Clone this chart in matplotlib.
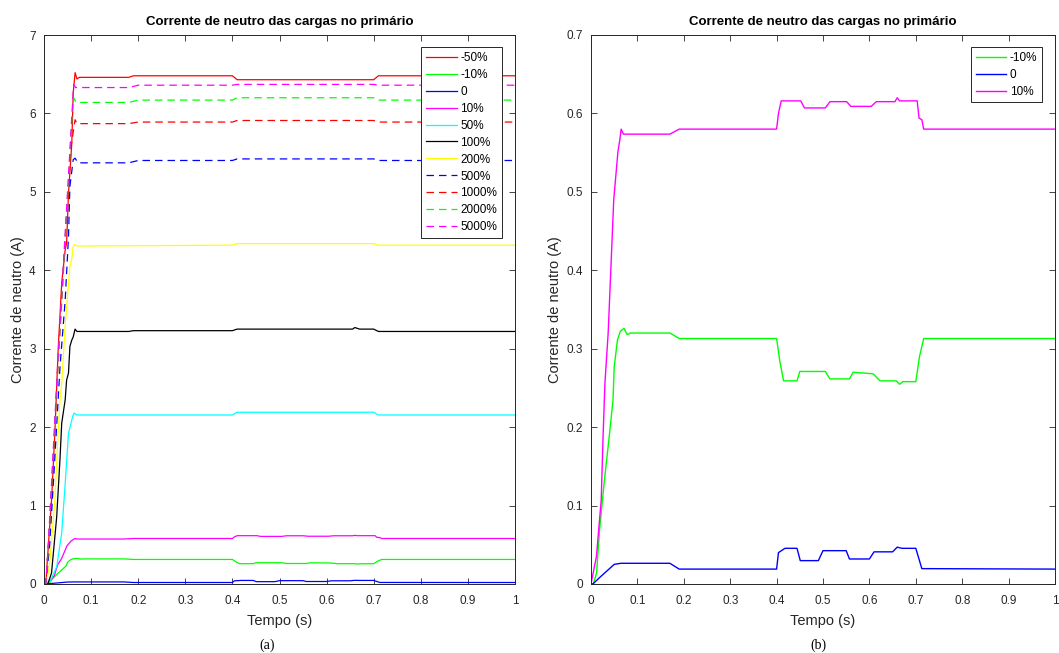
import matplotlib
matplotlib.use("Agg")
import matplotlib.pyplot as plt
from matplotlib.ticker import MultipleLocator, FuncFormatter

plt.rcParams['font.family'] = ['Liberation Sans', 'DejaVu Sans']

# ---- data (time in s, current in A) ----
# small loads (same curves on both panels)
neg10_t = [0, 0.005, 0.012, 0.0185, 0.029, 0.04, 0.0475, 0.05, 0.057, 0.063, 0.071, 0.078, 0.085,
           0.17, 0.19, 0.40, 0.407, 0.415, 0.444, 0.45, 0.505, 0.515, 0.557, 0.565, 0.608, 0.623,
           0.658, 0.665, 0.672, 0.70, 0.708, 0.717, 1.0]
neg10_v = [0, 0, 0.014, 0.069, 0.133, 0.192, 0.235, 0.277, 0.311, 0.322, 0.326, 0.318, 0.320,
           0.320, 0.313, 0.313, 0.284, 0.259, 0.259, 0.271, 0.271, 0.2615, 0.2615, 0.270, 0.268, 0.259,
           0.259, 0.2547, 0.258, 0.258, 0.290, 0.313, 0.313]

zero_t = [0, 0.004, 0.02, 0.035, 0.050, 0.064, 0.17, 0.19, 0.40, 0.404, 0.418, 0.444, 0.451, 0.49,
          0.50, 0.55, 0.557, 0.60, 0.61, 0.65, 0.66, 0.67, 0.70, 0.713, 1.0]
zero_v = [0, 0, 0.009, 0.017, 0.025, 0.0264, 0.0264, 0.019, 0.019, 0.040, 0.0455, 0.0455, 0.0298, 0.0298,
          0.0425, 0.0425, 0.0319, 0.0319, 0.041, 0.041, 0.047, 0.0455, 0.0455, 0.0196, 0.019]

pos10_t = [0, 0.0117, 0.022, 0.026, 0.03, 0.037, 0.04, 0.049, 0.0546, 0.058, 0.062, 0.065, 0.07,
           0.17, 0.19, 0.40, 0.404, 0.41, 0.452, 0.46, 0.505, 0.515, 0.551, 0.56, 0.604, 0.615,
           0.655, 0.66, 0.665, 0.703, 0.707, 0.713, 0.717, 1.0]
pos10_v = [0, 0.035, 0.107, 0.188, 0.256, 0.32, 0.362, 0.49, 0.528, 0.551, 0.566, 0.580, 0.5736,
           0.5736, 0.58, 0.58, 0.600, 0.616, 0.616, 0.607, 0.607, 0.615, 0.615, 0.609, 0.609, 0.615,
           0.615, 0.620, 0.616, 0.616, 0.594, 0.592, 0.58, 0.58]

# larger loads (left panel only)
neg50_t = [0, 0.004, 0.0057, 0.016, 0.023, 0.030, 0.0376, 0.045, 0.048, 0.052, 0.059, 0.062, 0.066,
           0.07, 0.075, 0.18, 0.19, 0.40, 0.41, 0.70, 0.71, 1.0]
neg50_v = [0, 0, 0.18, 1.07, 1.92, 2.98, 3.84, 4.26, 4.35, 4.98, 5.62, 6.26, 6.52,
           6.44, 6.46, 6.46, 6.48, 6.48, 6.43, 6.43, 6.48, 6.48]

p50_t = [0, 0.0127, 0.027, 0.0376, 0.045, 0.052, 0.059, 0.062, 0.064, 0.07, 0.40, 0.41, 0.70, 0.71, 1.0]
p50_v = [0, 0.03, 0.22, 0.65, 1.28, 1.92, 2.09, 2.155, 2.18, 2.155, 2.155, 2.19, 2.19, 2.155, 2.155]

p100_t = [0, 0.008, 0.016, 0.027, 0.034, 0.0376, 0.045, 0.048, 0.052, 0.055, 0.059, 0.062, 0.066,
          0.07, 0.18, 0.19, 0.40, 0.41, 0.655, 0.66, 0.67, 0.70, 0.71, 1.0]
p100_v = [0, 0, 0.14, 0.86, 1.6, 2.05, 2.35, 2.60, 2.69, 3.03, 3.11, 3.15, 3.25,
          3.22, 3.22, 3.23, 3.23, 3.25, 3.25, 3.27, 3.25, 3.25, 3.22, 3.22]

p200_t = [0, 0.005, 0.0127, 0.023, 0.030, 0.034, 0.0376, 0.045, 0.055, 0.059, 0.062, 0.065, 0.07,
          0.40, 0.41, 0.70, 0.71, 1.0]
p200_v = [0, 0, 0.3, 1.07, 1.92, 2.35, 2.56, 3.3, 4.05, 4.14, 4.30, 4.33, 4.31,
          4.32, 4.34, 4.34, 4.32, 4.32]

p500_t = [0, 0.004, 0.012, 0.022, 0.034, 0.045, 0.052, 0.055, 0.062, 0.066, 0.072, 0.18, 0.2,
          0.40, 0.41, 0.70, 0.71, 1.0]
p500_v = [0, 0, 0.5, 1.5, 2.77, 3.62, 4.43, 5.07, 5.41, 5.43, 5.37, 5.37, 5.40,
          5.40, 5.42, 5.42, 5.40, 5.40]

p1000_t = [0, 0.004, 0.01, 0.02, 0.03, 0.04, 0.05, 0.058, 0.066, 0.07, 0.075, 0.18, 0.2,
           0.40, 0.41, 0.70, 0.71, 1.0]
p1000_v = [0, 0, 0.55, 1.65, 2.8, 3.85, 4.9, 5.6, 5.92, 5.87, 5.87, 5.87, 5.89,
           5.89, 5.91, 5.91, 5.89, 5.89]

p2000_t = [0, 0.004, 0.01, 0.02, 0.03, 0.04, 0.05, 0.058, 0.062, 0.068, 0.075, 0.18, 0.2,
           0.40, 0.41, 0.70, 0.71, 1.0]
p2000_v = [0, 0, 0.55, 1.7, 2.85, 3.9, 4.95, 5.8, 6.21, 6.14, 6.14, 6.14, 6.17,
           6.17, 6.20, 6.20, 6.17, 6.17]

p5000_t = [0, 0.004, 0.01, 0.02, 0.03, 0.04, 0.05, 0.058, 0.063, 0.067, 0.075, 0.18, 0.2,
           0.40, 0.41, 0.70, 0.71, 1.0]
p5000_v = [0, 0, 0.6, 1.75, 2.9, 3.95, 5.0, 5.85, 6.37, 6.33, 6.33, 6.33, 6.36,
           6.36, 6.37, 6.37, 6.36, 6.36]

left_labels = ['-50%', '-10%', '0', '10%', '50%', '100%', '200%', '500%', '1000%', '2000%', '5000%']
right_labels = ['-10%', '0', '10%']

title = 'Corrente de neutro das cargas no primário'
dash = (0, (6, 4))
gray = '0.15'

fig = plt.figure(figsize=(10.59, 6.53), dpi=100)
axL = fig.add_axes([44/1059, 1-584/653, 471/1059, 549/653])
axR = fig.add_axes([591/1059, 1-584/653, 464/1059, 549/653])

left_series = [
    (neg50_t, neg50_v, '#ff0000', '-'),
    (neg10_t, neg10_v, '#00ff00', '-'),
    (zero_t, zero_v, '#0000ff', '-'),
    (pos10_t, pos10_v, '#ff00ff', '-'),
    (p50_t, p50_v, '#00ffff', '-'),
    (p100_t, p100_v, '#000000', '-'),
    (p200_t, p200_v, '#ffff00', '-'),
    (p500_t, p500_v, '#0000ff', dash),
    (p1000_t, p1000_v, '#ff0000', dash),
    (p2000_t, p2000_v, '#00ff00', dash),
    (p5000_t, p5000_v, '#ff00ff', dash),
]
for (t, v, c, ls), lab in zip(left_series, left_labels):
    axL.plot(t, v, color=c, ls=ls, lw=0.9, label=lab)

right_series = [
    (neg10_t, neg10_v, '#00ff00'),
    (zero_t, zero_v, '#0000ff'),
    (pos10_t, pos10_v, '#ff00ff'),
]
for (t, v, c), lab in zip(right_series, right_labels):
    axR.plot(t, v, color=c, lw=1.0, label=lab)

fmt = FuncFormatter(lambda x, p: '%g' % round(x, 3))
for ax, ymax, ystep in [(axL, 7, 1), (axR, 0.7, 0.1)]:
    ax.set_xlim(0, 1)
    ax.set_ylim(0, ymax)
    ax.xaxis.set_major_locator(MultipleLocator(0.1))
    ax.yaxis.set_major_locator(MultipleLocator(ystep))
    ax.xaxis.set_major_formatter(fmt)
    ax.yaxis.set_major_formatter(fmt)
    ax.tick_params(direction='in', length=4, width=0.6, top=True, right=True,
                   labelsize=8.5, colors=gray, pad=6)
    ax.tick_params(axis='x', pad=8)
    for s in ax.spines.values():
        s.set_color(gray)
        s.set_linewidth(0.7)
    ax.set_title(title, fontsize=9.5, fontweight='bold', pad=7)
    ax.set_xlabel('Tempo (s)', fontsize=10.5, color=gray, labelpad=5)
    ax.set_ylabel('Corrente de neutro (A)', fontsize=10.5, color=gray, labelpad=3)
    leg = ax.legend(loc='upper right', bbox_to_anchor=(0.972, 0.978), borderaxespad=0,
                    fontsize=8.5, handlelength=2.6, handletextpad=0.3, labelspacing=0.42,
                    borderpad=0.4, fancybox=False, framealpha=1)
    leg.get_frame().set_edgecolor(gray)
    leg.get_frame().set_linewidth(0.7)

fig.text(267/1059, 1-645/653, '(a)', ha='center', va='center', fontsize=10,
         family=['Liberation Serif', 'DejaVu Serif'])
fig.text(818/1059, 1-645/653, '(b)', ha='center', va='center', fontsize=10,
         family=['Liberation Serif', 'DejaVu Serif'])

fig.savefig('out.png', dpi=100)
